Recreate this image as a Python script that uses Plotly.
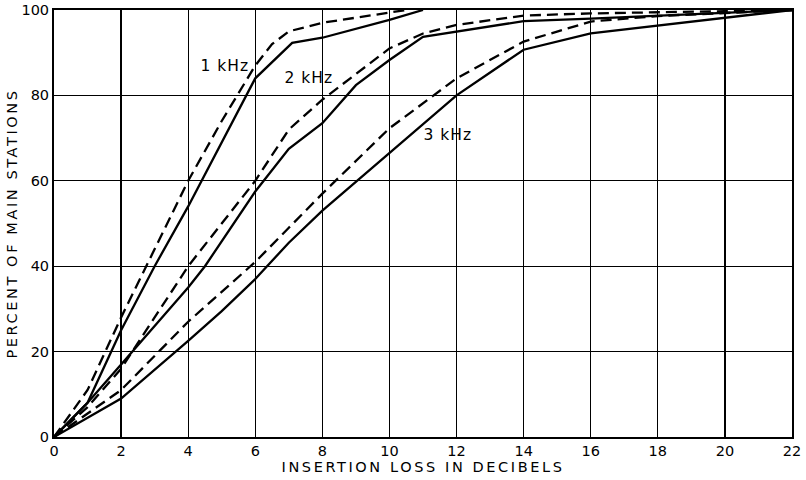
import plotly.graph_objects as go

# 1 kHz
x_1k_solid = [0, 1, 2, 3, 4, 5, 6, 7.1, 8, 10, 11]
y_1k_solid = [0, 8, 25, 40, 54, 69, 84, 92.3, 93.5, 97.7, 100]
x_1k_dash = [0, 1, 2, 4, 5, 6, 6.5, 7, 8, 10, 10.5]
y_1k_dash = [0, 11, 28, 60, 74, 87, 92, 95, 97, 99.3, 100]

# 2 kHz
x_2k_solid = [0, 1, 2, 3, 4, 4.5, 6, 7, 8, 9, 10, 11, 14, 16, 22]
y_2k_solid = [0, 8, 17, 26, 35, 40, 57.5, 67.5, 73.5, 82.4, 88.3, 93.7, 97.4, 98, 100]
x_2k_dash = [0, 1, 2, 3, 4, 6, 7, 8, 10, 11, 12, 14, 16, 22]
y_2k_dash = [0, 7, 16, 28, 40, 60, 72, 79, 91, 94.5, 96.5, 98.7, 99.2, 100]

# 3 kHz
x_3k_solid = [0, 2, 4, 5, 6, 7, 8, 10, 12, 14, 16, 22]
y_3k_solid = [0, 9, 22.5, 29.5, 37, 45.5, 53, 66.4, 80, 90.7, 94.5, 100]
x_3k_dash = [0, 2, 4, 6, 7, 8, 10, 12, 14, 16, 18, 22]
y_3k_dash = [0, 11, 27, 41, 49, 57, 72.3, 84, 92.6, 97.3, 98.6, 100]

labels = ["1 kHz", "2 kHz", "3 kHz"]
label_x = [5.1, 7.6, 11.75]
label_y = [86.8, 84, 70.7]

x_ticks = list(range(0, 23, 2))
y_ticks = list(range(0, 101, 20))

FONT = "DejaVu Sans"

fig = go.Figure()
series = [
    (x_1k_dash, y_1k_dash, "dash"), (x_1k_solid, y_1k_solid, "solid"),
    (x_2k_dash, y_2k_dash, "dash"), (x_2k_solid, y_2k_solid, "solid"),
    (x_3k_dash, y_3k_dash, "dash"), (x_3k_solid, y_3k_solid, "solid"),
]
for xs, ys, st in series:
    fig.add_trace(go.Scatter(
        x=xs, y=ys, mode="lines", showlegend=False, hoverinfo="skip",
        line=dict(color="black", width=2.3,
                  dash="11px,6px" if st == "dash" else "solid"),
    ))

for t, lx, ly in zip(labels, label_x, label_y):
    fig.add_annotation(x=lx, y=ly, xref="x", yref="y", text=t, showarrow=False,
                       font=dict(family=FONT, size=15.5, color="black"))

fig.update_layout(
    width=806, height=480,
    margin=dict(l=54, r=14, t=10, b=43),
    paper_bgcolor="white", plot_bgcolor="white",
    font=dict(family=FONT, size=14.5, color="black"),
    hovermode=False,
    xaxis=dict(range=[0, 22], tickvals=x_ticks, ticktext=[str(v) for v in x_ticks],
               showgrid=True, gridcolor="black", gridwidth=1.2,
               showline=True, linecolor="black", linewidth=2, mirror=True,
               ticks="", zeroline=False, ticklen=0, automargin=False,
               title=dict(text="INSERTION LOSS IN DECIBELS",
                          font=dict(family=FONT, size=14.5), standoff=2)),
    yaxis=dict(range=[0, 100], tickvals=y_ticks, ticktext=[str(v) for v in y_ticks],
               showgrid=True, gridcolor="black", gridwidth=1.2,
               showline=True, linecolor="black", linewidth=2, mirror=True,
               ticks="", zeroline=False, automargin=False,
               title=dict(text="PERCENT OF MAIN STATIONS",
                          font=dict(family=FONT, size=14.5), standoff=0)),
)

post = """
document.body.style.margin = '0';
document.querySelectorAll('.xtitle, .ytitle').forEach(function(e){
  e.style.letterSpacing = '2.6px';
});
document.querySelectorAll('.annotation-text').forEach(function(e){
  e.style.letterSpacing = '1px';
});
"""

fig.write_html("out.html", post_script=post, config={"displayModeBar": False, "staticPlot": True})
